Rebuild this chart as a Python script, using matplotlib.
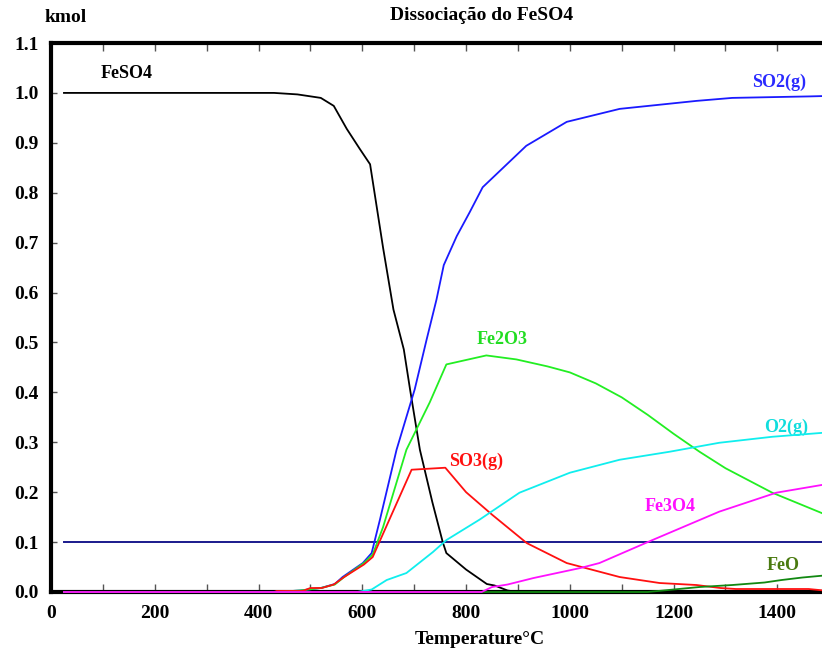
import numpy as np
import matplotlib.pyplot as plt
from matplotlib.ticker import FixedLocator, FuncFormatter

plt.rcParams['font.family'] = ['Liberation Serif', 'DejaVu Serif']
plt.rcParams['font.weight'] = 'bold'

# Data (temperature in C, amount in kmol)
t_feso4 = [25, 430, 475, 520, 545, 570, 595, 615, 640, 660, 680, 692, 711, 735, 755, 762, 800, 840, 855, 880, 900, 1500]
feso4 = [1.0, 1.0, 0.997, 0.99, 0.974, 0.928, 0.888, 0.857, 0.69, 0.566, 0.486, 0.406, 0.285, 0.18, 0.1, 0.078, 0.045, 0.016, 0.013, 0.003, 0.0, 0.0]

t_so2 = [25, 430, 480, 520, 547, 562, 601, 618, 634, 666, 701, 724, 743, 757, 782, 807, 832, 916, 994, 1096, 1244, 1313, 1462, 1500]
so2 = [0.0, 0.0, 0.003, 0.008, 0.016, 0.03, 0.058, 0.078, 0.145, 0.285, 0.406, 0.506, 0.586, 0.655, 0.713, 0.761, 0.811, 0.894, 0.942, 0.968, 0.984, 0.99, 0.993, 0.994]

t_fe2o3 = [25, 430, 480, 520, 547, 565, 603, 620, 640, 685, 730, 762, 839, 897, 957, 1000, 1050, 1100, 1150, 1200, 1250, 1300, 1390, 1500]
fe2o3 = [0.0, 0.0, 0.003, 0.008, 0.015, 0.03, 0.058, 0.075, 0.13, 0.285, 0.38, 0.456, 0.474, 0.466, 0.452, 0.44, 0.418, 0.39, 0.355, 0.317, 0.281, 0.248, 0.199, 0.152]

t_so3 = [25, 430, 435, 485, 500, 522, 545, 565, 603, 620, 650, 695, 760, 800, 850, 917, 994, 1096, 1173, 1244, 1290, 1320, 1460, 1500]
so3 = [0.0, 0.0, 0.002, 0.002, 0.008, 0.008, 0.015, 0.03, 0.055, 0.07, 0.14, 0.245, 0.249, 0.2, 0.155, 0.098, 0.058, 0.03, 0.018, 0.014, 0.008, 0.006, 0.006, 0.002]

t_o2 = [25, 590, 618, 647, 685, 736, 762, 826, 903, 1000, 1096, 1192, 1288, 1390, 1500]
o2 = [0.0, 0.0, 0.005, 0.024, 0.038, 0.08, 0.104, 0.145, 0.199, 0.239, 0.265, 0.281, 0.299, 0.311, 0.32]

t_fe3o4 = [25, 830, 850, 880, 930, 1020, 1057, 1159, 1288, 1398, 1500]
fe3o4 = [0.0, 0.0, 0.01, 0.015, 0.028, 0.048, 0.058, 0.104, 0.161, 0.199, 0.217]

t_feo = [25, 1150, 1200, 1250, 1313, 1375, 1408, 1448, 1500]
feo = [0.0, 0.0, 0.005, 0.01, 0.014, 0.019, 0.024, 0.029, 0.034]

ref_level = 0.1

# Series: (T, values, line colour, label, label pos, label colour)
series = [
    (t_feso4, feso4, 'black', 'FeSO4', (95, 1.038), 'black'),
    (t_so2, so2, '#1a1aff', 'SO2(g)', (1352, 1.022), '#2a2aff'),
    (t_fe2o3, fe2o3, '#22ee22', 'Fe2O3', (820, 0.506), '#22dd22'),
    (t_so3, so3, '#ff1010', 'SO3(g)', (768, 0.261), '#ff1010'),
    (t_o2, o2, '#10eeee', 'O2(g)', (1375, 0.329), '#10dddd'),
    (t_feo, feo, '#118811', 'FeO', (1379, 0.054), '#4a7a10'),
    (t_fe3o4, fe3o4, '#ff10ff', 'Fe3O4', (1144, 0.171), '#ff10ff'),
]

fig = plt.figure(figsize=(8.22, 6.58), dpi=100)
ax = fig.add_axes([51 / 822, 1 - 592 / 658, 1 - 51 / 822, (592 - 43) / 658])

ax.plot([25, 1500], [ref_level, ref_level], color='#1a1a8c', lw=1.4, zorder=3)
for t, v, c, name, pos, tc in series:
    ax.plot(t, v, color=c, lw=1.3, zorder=4, clip_on=False)
    ax.text(pos[0], pos[1], name, color=tc, fontsize=13, va='center', ha='left')

ax.set_xlim(0, 1486)
ax.set_ylim(0, 1.1)

for s in ['left', 'top', 'bottom']:
    ax.spines[s].set_linewidth(3)
ax.spines['right'].set_visible(False)

ax.xaxis.set_major_locator(FixedLocator(np.arange(0, 1500, 100)))
ax.xaxis.set_major_formatter(FuncFormatter(lambda x, p: f"{int(x)}" if int(x) % 200 == 0 else ""))
ax.tick_params(axis='x', direction='in', top=True, length=6, width=1, color='#555555',
               labelsize=14, pad=9)
ax.yaxis.set_major_locator(FixedLocator(np.arange(0, 1.11, 0.1)))
ax.yaxis.set_major_formatter(FuncFormatter(lambda y, p: f"{y:.1f}"))
ax.tick_params(axis='y', direction='in', length=4, width=1, color='#555555',
               labelsize=14, pad=9)

fig.text(66 / 822, 1 - 18 / 658, 'kmol', fontsize=14, ha='center', va='center')
fig.text(482 / 822, 1 - 15 / 658, 'Dissociação do FeSO4', fontsize=14, ha='center', va='center')
fig.text(480 / 822, 1 - 640 / 658, 'Temperature°C', fontsize=14, ha='center', va='center')

fig.savefig('out.png', dpi=100)
